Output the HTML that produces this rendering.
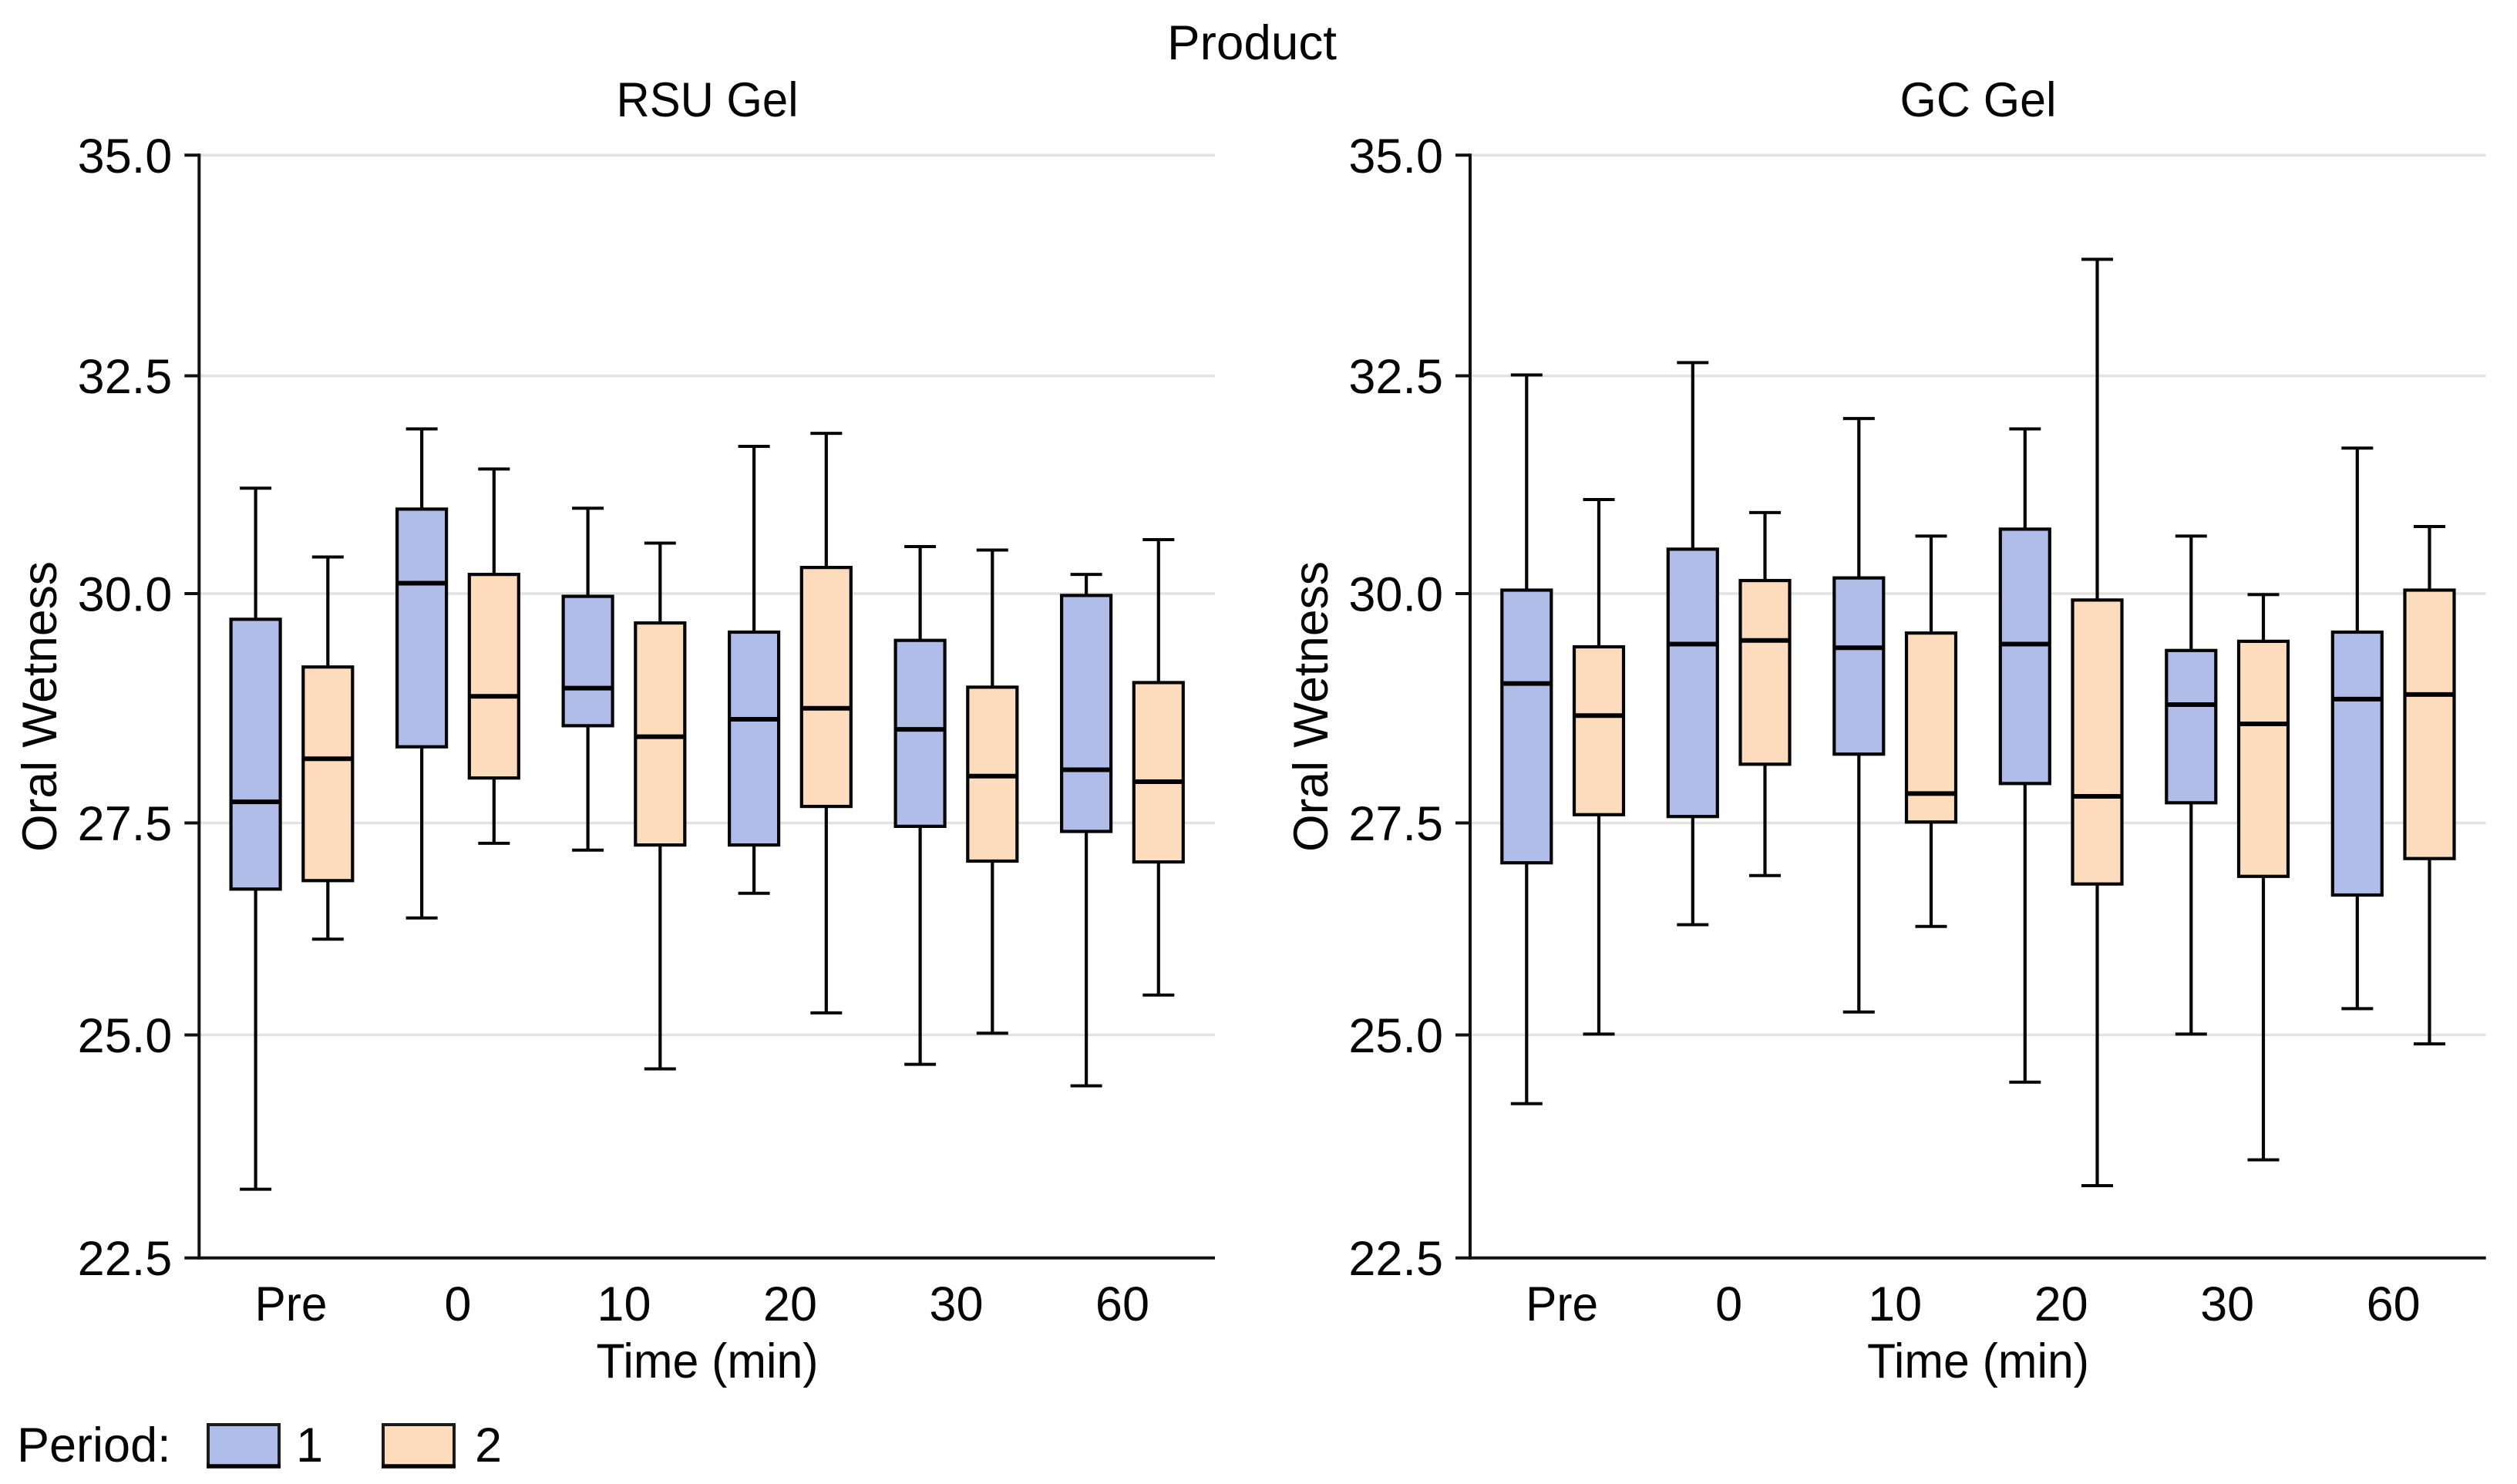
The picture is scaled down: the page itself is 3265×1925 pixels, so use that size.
<!DOCTYPE html>
<html lang="en">
<head>
<meta charset="utf-8">
<title>Oral Wetness by Time, Period and Product</title>
<style>
  html, body { margin: 0; padding: 0; background: #ffffff; }
  svg { display: block; }
  text { font-family: "Liberation Sans", sans-serif; font-size: 63px; fill: #050505; }
</style>
</head>
<body>
<svg id="chart" xmlns="http://www.w3.org/2000/svg" width="3265" height="1925" viewBox="0 0 3265 1925">
  <rect x="0" y="0" width="3265" height="1925" fill="#ffffff"/>
  <text x="1624" y="77" text-anchor="middle" textLength="220" lengthAdjust="spacingAndGlyphs">Product</text>
  <text x="917.5" y="151" text-anchor="middle" textLength="236" lengthAdjust="spacingAndGlyphs">RSU Gel</text>
  <text x="2566" y="151" text-anchor="middle" textLength="203" lengthAdjust="spacingAndGlyphs">GC Gel</text>
  <g id="panel-rsu"></g>
  <g id="panel-gc"></g>
  <text x="917.5" y="1787" text-anchor="middle" textLength="288" lengthAdjust="spacingAndGlyphs">Time (min)</text>
  <text x="2566" y="1787" text-anchor="middle" textLength="288" lengthAdjust="spacingAndGlyphs">Time (min)</text>
  <text transform="translate(73 916.5) rotate(-90)" text-anchor="middle" textLength="377" lengthAdjust="spacingAndGlyphs">Oral Wetness</text>
  <text transform="translate(1722 916.5) rotate(-90)" text-anchor="middle" textLength="377" lengthAdjust="spacingAndGlyphs">Oral Wetness</text>
  <g>
    <text x="22" y="1896">Period:</text>
    <g>
      <rect x="270" y="1848" width="92" height="54" fill="#b0bde9" stroke="#1a1a1a" stroke-width="4"/>
      <line x1="268" x2="364" y1="1902" y2="1902" stroke="#050505" stroke-width="5.5"/>
      <text x="384" y="1896">1</text>
    </g>
    <g>
      <rect x="497" y="1848" width="92" height="54" fill="#fddcbd" stroke="#1a1a1a" stroke-width="4"/>
      <line x1="495" x2="591" y1="1902" y2="1902" stroke="#050505" stroke-width="5.5"/>
      <text x="616" y="1896">2</text>
    </g>
  </g>
</svg>
<script>
const categories = ['Pre', '0', '10', '20', '30', '60'];
const yTickValues = [35, 32.5, 30, 27.5, 25, 22.5];
const yTickLabels = ['35.0', '32.5', '30.0', '27.5', '25.0', '22.5'];

const rsuP1Max    = [31.21, 31.89, 30.98, 31.69, 30.54, 30.22];
const rsuP1Q3     = [29.72, 30.97, 29.97, 29.58, 29.49, 29.98];
const rsuP1Median = [27.73, 30.12, 28.97, 28.63, 28.52, 28.08];
const rsuP1Q1     = [26.72, 28.33, 28.56, 27.24, 27.46, 27.40];
const rsuP1Min    = [23.27, 26.38, 27.18, 26.67, 24.67, 24.43];

const rsuP2Max    = [30.42, 31.43, 30.58, 31.84, 30.50, 30.62];
const rsuP2Q3     = [29.20, 30.22, 29.68, 30.30, 28.98, 29.03];
const rsuP2Median = [28.20, 28.88, 28.44, 28.75, 28.01, 27.95];
const rsuP2Q1     = [26.82, 27.99, 27.24, 27.68, 27.05, 27.04];
const rsuP2Min    = [26.13, 27.26, 24.62, 25.26, 25.02, 25.47];

const gcP1Max     = [32.51, 32.65, 32.01, 31.89, 30.66, 31.67];
const gcP1Q3      = [30.04, 30.51, 30.18, 30.74, 29.38, 29.58];
const gcP1Median  = [29.02, 29.45, 29.41, 29.45, 28.79, 28.85];
const gcP1Q1      = [27.03, 27.57, 28.25, 27.93, 27.72, 26.65];
const gcP1Min     = [24.23, 26.30, 25.27, 24.47, 25.01, 25.31];

const gcP2Max     = [31.08, 30.93, 30.66, 33.82, 29.99, 30.77];
const gcP2Q3      = [29.42, 30.15, 29.57, 29.93, 29.48, 30.04];
const gcP2Median  = [28.67, 29.49, 27.82, 27.79, 28.58, 28.90];
const gcP2Q1      = [27.59, 28.14, 27.51, 26.78, 26.87, 27.08];
const gcP2Min     = [25.01, 26.88, 26.28, 23.31, 23.60, 24.90];

const SVG_NS = 'http://www.w3.org/2000/svg';

function yScale(value) {
  const stops = [201.3, 487.5, 770, 1067.5, 1342.5, 1631.7];
  let i = 0;
  while (i < yTickValues.length - 2 && value < yTickValues[i + 1]) i++;
  const t = (yTickValues[i] - value) / (yTickValues[i] - yTickValues[i + 1]);
  return stops[i] + t * (stops[i + 1] - stops[i]);
}

function xScale(panelLeft, index) {
  return panelLeft + 120.15 + index * 215.5;
}

function make(tag, attrs, parent) {
  const el = document.createElementNS(SVG_NS, tag);
  for (const k in attrs) el.setAttribute(k, attrs[k]);
  parent.appendChild(el);
  return el;
}

function drawAxes(parent, panelLeft) {
  const panelRight = panelLeft + 1317.7;
  const axisStroke = '#111111';
  yTickValues.forEach(function (v, i) {
    const y = yScale(v);
    if (i < yTickValues.length - 1) {
      const grid = make('line', { x1: panelLeft, x2: panelRight, y1: y, y2: y, stroke: '#e2e2e2', 'stroke-width': 3.5 }, parent);
      
      
    }
    const tick = make('line', { x1: panelLeft - 19, x2: panelLeft, y1: y, y2: y, stroke: axisStroke, 'stroke-width': 4 }, parent);
    
    
    const label = make('text', { x: panelLeft - 35, y: y + 22.5, 'text-anchor': 'end' }, parent);
    
    
    label.textContent = yTickLabels[i];
  });
  const yAxis = make('line', { x1: panelLeft, x2: panelLeft, y1: yScale(35) - 2, y2: yScale(22.5) + 2, stroke: axisStroke, 'stroke-width': 4 }, parent);
  
  
  const xAxis = make('line', { x1: panelLeft, x2: panelRight, y1: yScale(22.5), y2: yScale(22.5), stroke: axisStroke, 'stroke-width': 4 }, parent);
  
  
  categories.forEach(function (c, i) {
    const attrs = { x: xScale(panelLeft, i), y: 1713, 'text-anchor': 'middle' };
    if (c === 'Pre') { attrs.x = xScale(panelLeft, i) - 1; attrs.textLength = 94; attrs.lengthAdjust = 'spacingAndGlyphs'; }
    const label = make('text', attrs, parent);
    
    
    label.textContent = c;
  });
}

function drawSeries(parent, panelLeft, offset, fill, max, q3, median, q1, min) {
  const capHalf = 20.5;
  const boxHalf = 32;
  const ink = '#050505';
  categories.forEach(function (c, i) {
    const x = xScale(panelLeft, i) + offset;
    const box = make('g', {}, parent);
    
    
    const whisker = make('line', { x1: x, x2: x, y1: yScale(max[i]), y2: yScale(min[i]), stroke: ink, 'stroke-width': 4.2 }, box);
    
    
    const capTop = make('line', { x1: x - capHalf, x2: x + capHalf, y1: yScale(max[i]), y2: yScale(max[i]), stroke: ink, 'stroke-width': 4 }, box);
    
    
    const capBottom = make('line', { x1: x - capHalf, x2: x + capHalf, y1: yScale(min[i]), y2: yScale(min[i]), stroke: ink, 'stroke-width': 4 }, box);
    
    
    const rect = make('rect', { x: x - boxHalf, y: yScale(q3[i]), width: boxHalf * 2, height: yScale(q1[i]) - yScale(q3[i]), fill: fill, stroke: ink, 'stroke-width': 4.2 }, box);
    
    
    const med = make('line', { x1: x - boxHalf, x2: x + boxHalf, y1: yScale(median[i]), y2: yScale(median[i]), stroke: '#000000', 'stroke-width': 6 }, box);
    
    
  });
}

const rsuPanel = document.getElementById('panel-rsu');
const gcPanel = document.getElementById('panel-gc');
const rsuLeft = 258.3;
const gcLeft = 1907;
const blueFill = '#b0bde9';
const peachFill = '#fddcbd';

drawAxes(rsuPanel, rsuLeft);
drawSeries(rsuPanel, rsuLeft, -46.85, blueFill, rsuP1Max, rsuP1Q3, rsuP1Median, rsuP1Q1, rsuP1Min);
drawSeries(rsuPanel, rsuLeft, 46.85, peachFill, rsuP2Max, rsuP2Q3, rsuP2Median, rsuP2Q1, rsuP2Min);

drawAxes(gcPanel, gcLeft);
drawSeries(gcPanel, gcLeft, -46.85, blueFill, gcP1Max, gcP1Q3, gcP1Median, gcP1Q1, gcP1Min);
drawSeries(gcPanel, gcLeft, 46.85, peachFill, gcP2Max, gcP2Q3, gcP2Median, gcP2Q1, gcP2Min);
</script>
</body>
</html>
